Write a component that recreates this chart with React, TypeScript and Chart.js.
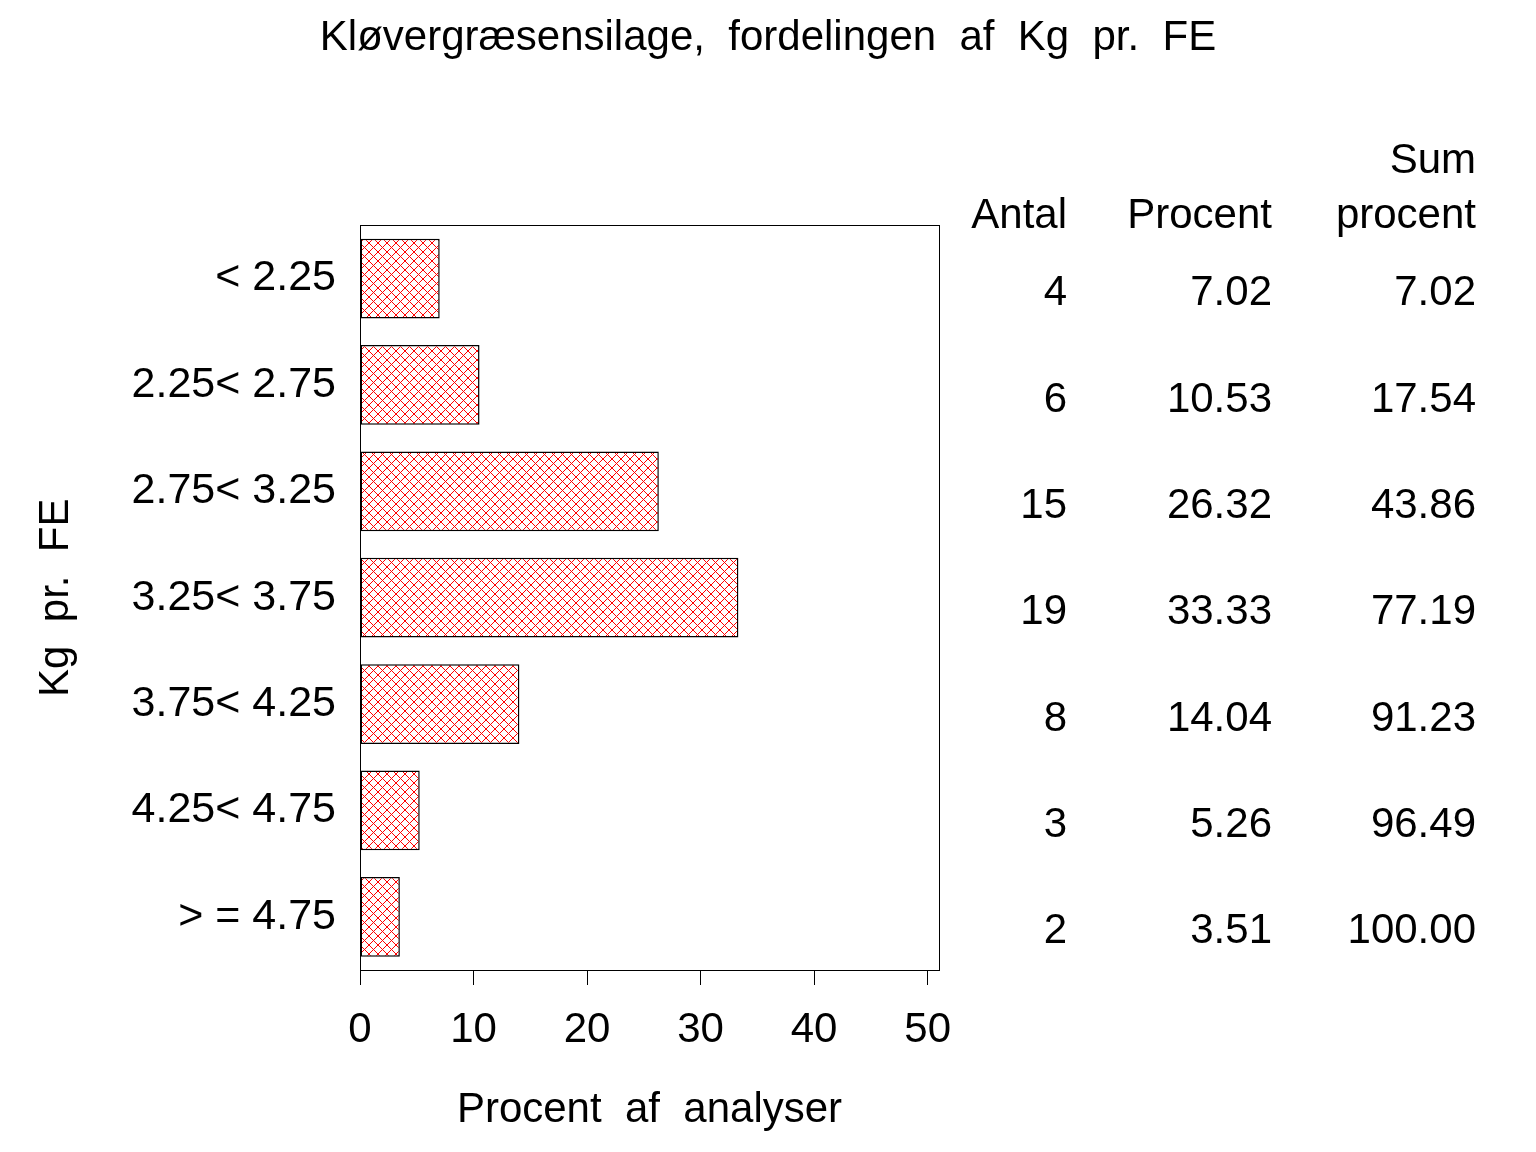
import { useEffect, useRef } from 'react'
import { Chart, registerables } from 'chart.js'

Chart.register(...registerables)

const categories = ['< 2.25', '2.25< 2.75', '2.75< 3.25', '3.25< 3.75', '3.75< 4.25', '4.25< 4.75', '> = 4.75']
const procent = [7.02, 10.53, 26.32, 33.33, 14.04, 5.26, 3.51]
const antal = [4, 6, 15, 19, 8, 3, 2]
const sumProcent = [7.02, 17.54, 43.86, 77.19, 91.23, 96.49, 100.0]
const xMax = 51
const xStep = 10

const FONT = '"Liberation Sans", Arial, sans-serif'
const SIZE = 42

// red cross hatch like the SAS fill
const makeHatch = () => {
  const c = document.createElement('canvas')
  c.width = 9
  c.height = 9
  const g = c.getContext('2d')!
  g.fillStyle = '#ffffff'
  g.fillRect(0, 0, 9, 9)
  g.fillStyle = '#ff0000'
  for (let i = 0; i < 9; i++) {
    g.fillRect(i, i, 1, 1)
    g.fillRect(8 - i, i, 1, 1)
  }
  return g.createPattern(c, 'repeat')!
}

const framePlugin = {
  id: 'frame',
  afterDatasetsDraw(chart: any) {
    const { ctx, chartArea } = chart
    ctx.save()
    ctx.strokeStyle = '#000'
    ctx.lineWidth = 1
    ctx.strokeRect(
      Math.round(chartArea.left) + 0.5,
      Math.round(chartArea.top) + 0.5,
      Math.round(chartArea.right - chartArea.left),
      Math.round(chartArea.bottom - chartArea.top)
    )
    ctx.restore()
  },
}

const tablePlugin = {
  id: 'table',
  afterDraw(chart: any) {
    const { ctx } = chart
    const y = chart.scales.y
    const cols = [1067, 1272, 1476]
    ctx.save()
    ctx.fillStyle = '#000'
    ctx.font = `${SIZE}px ${FONT}`
    ctx.textAlign = 'right'
    ctx.textBaseline = 'alphabetic'
    ctx.fillText('Antal', cols[0], 228)
    ctx.fillText('Procent', cols[1], 228)
    ctx.fillText('Sum', cols[2], 173)
    ctx.fillText('procent', cols[2], 228)
    ctx.textBaseline = 'middle'
    categories.forEach((_, i) => {
      const cy = y.getPixelForValue(i) + 15
      ctx.fillText(String(antal[i]), cols[0], cy)
      ctx.fillText(procent[i].toFixed(2), cols[1], cy)
      ctx.fillText(sumProcent[i].toFixed(2), cols[2], cy)
    })
    ctx.restore()
  },
}

const App = () => {
  const canvasRef = useRef<HTMLCanvasElement>(null)

  useEffect(() => {
    Chart.defaults.color = '#000'
    Chart.defaults.font.family = FONT
    Chart.defaults.font.size = SIZE

    const chart = new Chart(canvasRef.current!, {
      type: 'bar',
      data: {
        labels: categories,
        datasets: [
          {
            data: procent,
            backgroundColor: makeHatch(),
            borderColor: '#000',
            borderWidth: 1.5,
            borderSkipped: false,
            barPercentage: 0.75,
            categoryPercentage: 1,
          },
        ],
      },
      options: {
        indexAxis: 'y',
        animation: false,
        responsive: false,
        devicePixelRatio: 1,
        layout: { padding: 0 },
        scales: {
          x: {
            position: 'bottom',
            min: 0,
            max: xMax,
            ticks: { stepSize: xStep, includeBounds: false, padding: 20 },
            grid: { drawOnChartArea: false, drawTicks: true, tickLength: 15, color: '#000', lineWidth: 1 },
            border: { color: '#000', width: 1 },
            title: { display: true, text: 'Procent  af  analyser', padding: { top: 0, bottom: 16 } },
            afterFit: (s: any) => {
              s.height = 182
            },
          },
          y: {
            ticks: { padding: 24, font: { size: 43 } },
            grid: { display: false, drawTicks: false },
            border: { color: '#000', width: 1 },
            title: { display: true, text: 'Kg  pr.  FE', padding: { top: 31, bottom: 0 } },
            afterFit: (s: any) => {
              s.width = 360
            },
          },
          // empty scale that keeps room for the table on the right
          side: {
            type: 'linear',
            position: 'right',
            ticks: { display: false },
            grid: { display: false },
            border: { display: false },
            afterFit: (s: any) => {
              s.width = 597
            },
          },
        },
        plugins: {
          legend: { display: false },
          tooltip: { enabled: false },
          title: {
            display: true,
            text: 'Kløvergræsensilage,  fordelingen  af  Kg  pr.  FE',
            font: { size: SIZE, weight: 'normal' },
            color: '#000',
            padding: { top: 13, bottom: 162 },
          },
        },
      },
      plugins: [framePlugin, tablePlugin],
    })

    return () => chart.destroy()
  }, [])

  return (
    <div style={{ position: 'absolute', left: 0, top: 0, width: 1536, height: 1152, background: '#fff' }}>
      <canvas ref={canvasRef} width={1536} height={1152}></canvas>
    </div>
  )
}

export default App
